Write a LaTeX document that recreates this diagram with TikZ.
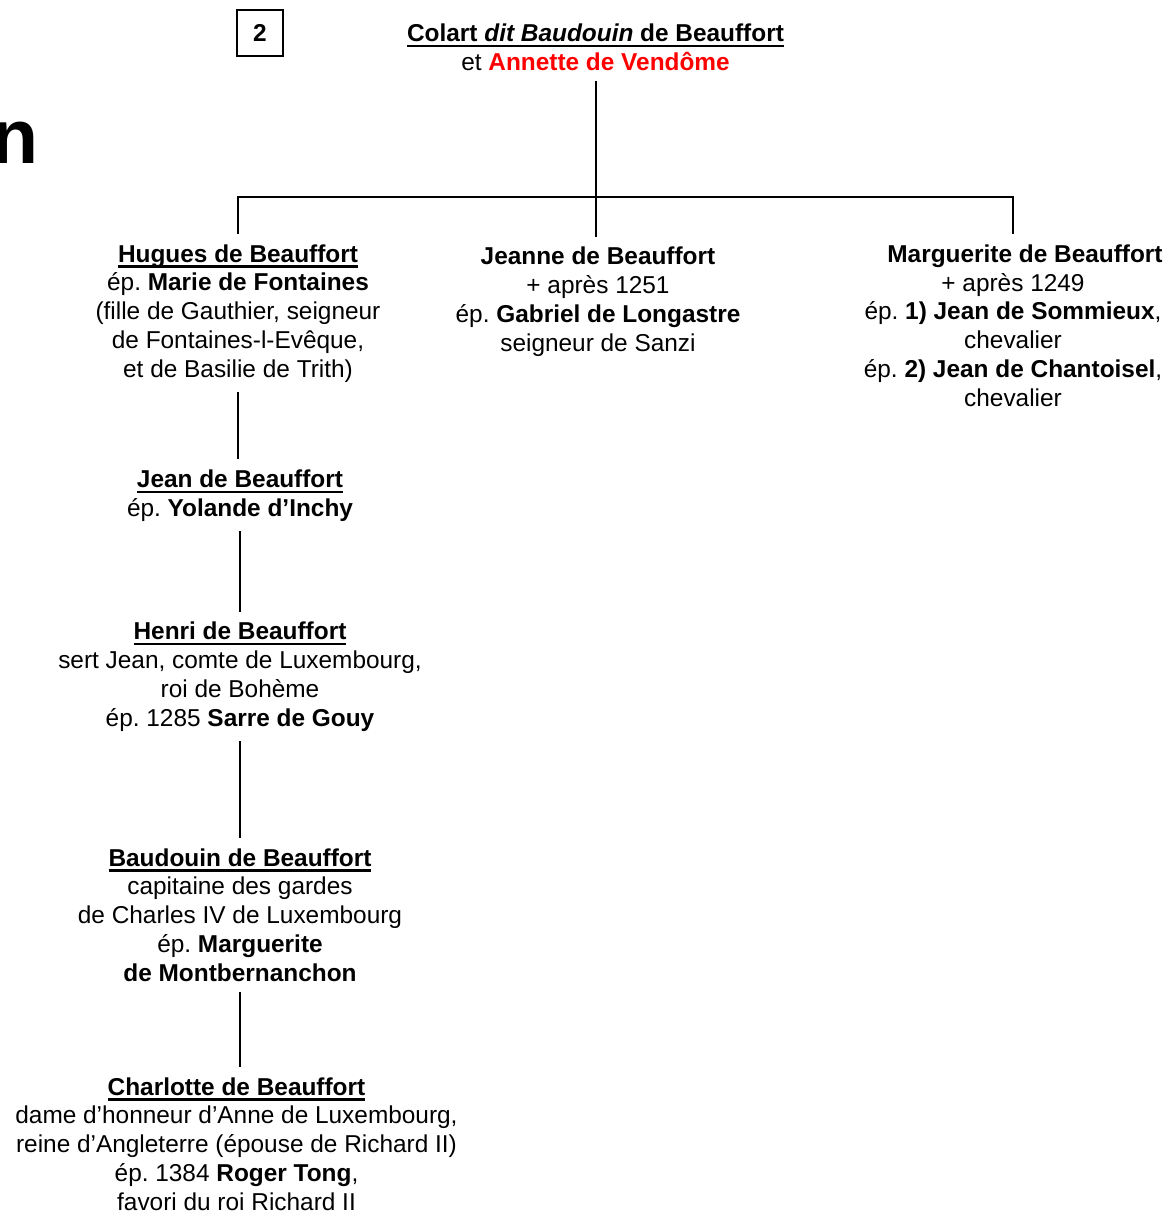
\documentclass[tikz,border=0pt]{standalone}
\usepackage{fontspec}
\setmainfont{Liberation Sans}
\usetikzlibrary{calc}
\definecolor{spousered}{RGB}{255,0,0}
\definecolor{treeline}{RGB}{0,0,0}
\frenchspacing
\newcommand{\gensize}{\fontsize{12.2}{14.375}\selectfont}
\newcommand{\heirname}[1]{%
  \setbox0\hbox{\bfseries #1}%
  \rlap{\rule[-2.85pt]{\wd0}{1.2pt}}\box0}
\tikzset{
  person/.style={
    align=center, anchor=base,
    inner xsep=2pt, inner ysep=5pt,
    font=\gensize
  },
  genbox/.style={
    draw=treeline, line width=1pt,
    minimum size=23pt, inner sep=0pt,
    font=\gensize\bfseries
  },
  descent/.style={line width=1pt, color=treeline}
}

\begin{document}
\begin{tikzpicture}[x=0.5pt, y=-0.5pt]
\useasboundingbox (0,0) rectangle (1171,1212);

% ═══════════════════════════════════════════════════════════════════
% HEADER — title tail and generation number
% ═══════════════════════════════════════════════════════════════════

\node[anchor=base west, inner sep=0pt,
      font=\fontsize{38.5}{40}\selectfont\bfseries]
  (titletail) at (-9,163) {n};

\node[genbox] (gen) at (260,32.5) {2};

% ═══════════════════════════════════════════════════════════════════
% GENERATION 1 — the couple  (nodes sit on their last baseline)
% ═══════════════════════════════════════════════════════════════════

\node[person] (couple) at (595.5,70)
  {\heirname{Colart \textit{dit Baudouin} de Beauffort}\\
   et {\bfseries\color{spousered}Annette de Vendôme}};

% ═══════════════════════════════════════════════════════════════════
% GENERATION 2 — the three children
% ═══════════════════════════════════════════════════════════════════

\node[person] (hugues) at (238,377)
  {\heirname{Hugues de Beauffort}\\
   ép. \textbf{Marie de Fontaines}\\
   (fille de Gauthier, seigneur\\
   de Fontaines-l-Evêque,\\
   et de Basilie de Trith)};

\node[person] (jeanne) at (598,351)
  {\textbf{Jeanne de Beauffort}\\
   + après 1251\\
   ép. \textbf{Gabriel de Longastre}\\
   seigneur de Sanzi};

\node[person] (marguerite) at (1013,406)
  {\hspace*{12pt}\textbf{Marguerite de Beauffort}\\
   + après 1249\\
   ép. \textbf{1) Jean de Sommieux},\\
   chevalier\\
   ép. \textbf{2) Jean de Chantoisel},\\
   chevalier};

% ═══════════════════════════════════════════════════════════════════
% DESCENT OF HUGUES
% ═══════════════════════════════════════════════════════════════════

\node[person] (jean) at (240,516)
  {\heirname{Jean de Beauffort}\\
   ép. \textbf{Yolande d’Inchy}};

\node[person] (henri) at (240,726)
  {\heirname{Henri de Beauffort}\\
   sert Jean, comte de Luxembourg,\\
   roi de Bohème\\
   ép. 1285 \textbf{Sarre de Gouy}};

\node[person] (baudouin) at (240,981)
  {\heirname{Baudouin de Beauffort}\\
   capitaine des gardes\\
   de Charles IV de Luxembourg\\
   ép. \textbf{Marguerite}\\
   \textbf{de Montbernanchon}};

\node[person] (charlotte) at (236.5,1210)
  {\heirname{Charlotte de Beauffort}\\
   dame d’honneur d’Anne de Luxembourg,\\
   reine d’Angleterre (épouse de Richard II)\\
   ép. 1384 \textbf{Roger Tong},\\
   favori du roi Richard II};

% ═══════════════════════════════════════════════════════════════════
% LINES OF DESCENT
% ═══════════════════════════════════════════════════════════════════

% ── couple → children ────────────────────────────────────────────
\coordinate (bar) at (595.5,197);
\draw[descent] (couple.south) -- (couple.south |- jeanne.north);
\draw[descent] (hugues.north) |- (bar) -| (marguerite.north);

% ── Hugues line ──────────────────────────────────────────────────
\draw[descent] (hugues.south)   -- (hugues.south |- jean.north);
\draw[descent] (jean.south)     -- (jean.south |- henri.north);
\draw[descent] (henri.south)    -- (henri.south |- baudouin.north);
\draw[descent] (baudouin.south) -- (baudouin.south |- charlotte.north);

\end{tikzpicture}
\end{document}
